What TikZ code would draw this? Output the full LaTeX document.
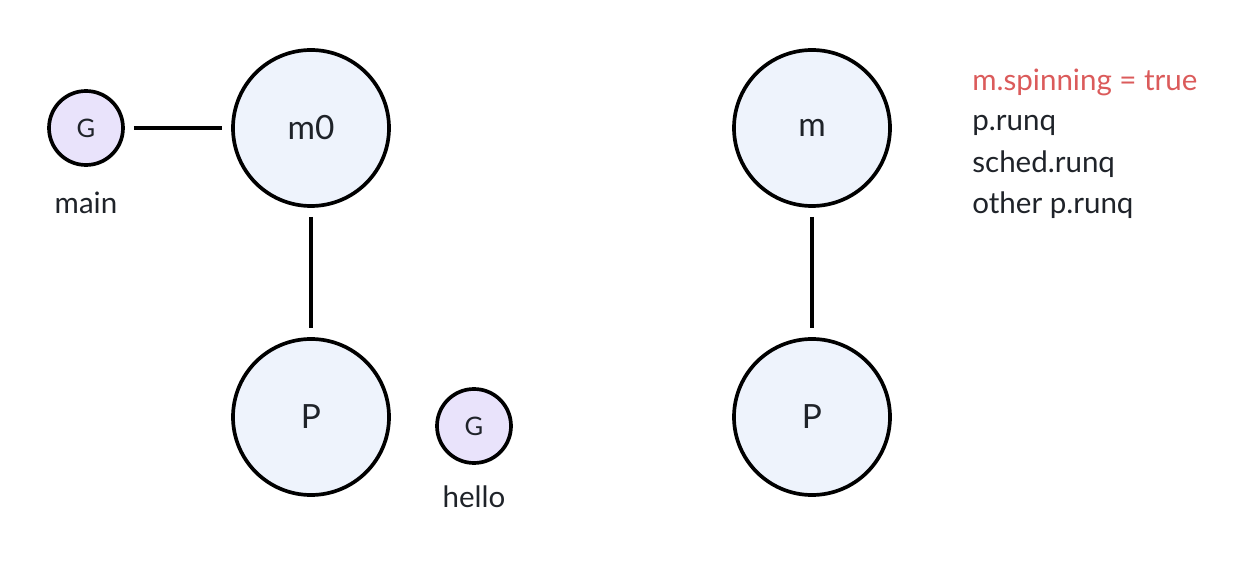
\documentclass[tikz,border=0pt]{standalone}
\usepackage{fontspec}
\setmainfont{Lato}
\definecolor{gfill}{HTML}{E9E3FB}
\definecolor{mfill}{HTML}{EEF3FC}
\definecolor{spinred}{HTML}{DB5B5B}
\definecolor{ink}{HTML}{1F2329}
\begin{document}
\begin{tikzpicture}[x=0.02cm,y=-0.02cm,
        gnode/.style={circle,draw=black,line width=2.1pt,fill=gfill,minimum size=74*0.02cm,inner sep=0pt,text=ink,font=\fontsize{14.5}{17}\selectfont},
        bignode/.style={circle,draw=black,line width=2.1pt,fill=mfill,minimum size=156*0.02cm,inner sep=0pt,text=ink,font=\fontsize{19}{22}\selectfont},
        link/.style={line width=2.3pt,shorten <=9*0.02cm,shorten >=9*0.02cm},
        lbl/.style={text=ink,font=\fontsize{16.8}{20}\selectfont,inner sep=0pt}]
    \useasboundingbox (0,0) rectangle (1248,564);
    \node[gnode](gmain) at (86,128){G};
    \node[bignode](m0) at (311,128){m0};
    \node[bignode](p0) at (311,417){P};
    \node[gnode](ghello) at (474,426){G};
    \node[bignode](m1) at (812,128){m};
    \node[bignode](p1) at (812,417){P};
    \node[lbl](lmain) at (86,203){main};
    \node[lbl](lhello) at (474,497){hello};
    \node[lbl,anchor=west,text=spinred](spin) at (972,82){m.spinning = true};
    \foreach \t/\y/\n in {p.runq/125/r1, sched.runq/164/r2, other p.runq/205/r3}{
        \node[lbl,anchor=west](\n) at (972,\y){\t};
    }
    \draw[link](gmain)--(m0);
    \draw[link](m0)--(p0);
    \draw[link](m1)--(p1);
\end{tikzpicture}
\end{document}
